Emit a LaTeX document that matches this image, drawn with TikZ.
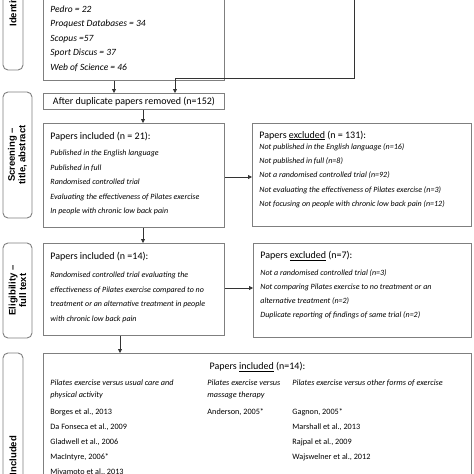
\documentclass[tikz,border=0pt]{standalone}
\usepackage{fontspec}
\setmainfont{Carlito}
\newfontfamily\sidefont{Liberation Sans}
\usetikzlibrary{arrows.meta,calc}
\definecolor{boxgray}{HTML}{7F7F7F}
\definecolor{linegray}{HTML}{333333}
\newcommand\ttlfont{\fontsize{10}{12}\selectfont}
\begin{document}
\begin{tikzpicture}[x=1pt,y=-1pt,
  mbox/.style={draw=boxgray,line width=0.9pt,fill=white,inner xsep=7pt,inner ysep=0pt,anchor=north west},
  sidebox/.style={draw=boxgray,line width=0.9pt,fill=white,rounded corners=5pt,inner sep=0pt,rotate=90,font=\sidefont\bfseries\fontsize{9.5}{10.5}\selectfont,align=center},
  conn/.style={draw=linegray,line width=0.8pt,-{Triangle[length=4pt,width=4pt]}}]
\useasboundingbox (0,0) rectangle (474,474);
\clip (0,0) rectangle (474,474);

% side labels
\node[sidebox, minimum width=146pt, minimum height=20pt] (ident) at (13,-3) {Identification};
\node[sidebox, minimum width=126pt, minimum height=29pt] (screen) at (17.5,155) {Screening –\\title, abstract};
\node[sidebox, minimum width=95pt, minimum height=29pt] (elig) at (17.5,290.5) {Eligibility –\\full text};
\node[sidebox, minimum width=205pt, minimum height=20pt] (inclside) at (13,455.5) {Included};

% boxes
\node[mbox] (search) at (43,-40) {\parbox[c][110pt][b]{167pt}{\raggedright\fontsize{9.5}{14.5}\selectfont\itshape
Pedro = 22\par
Proquest Databases = 34\par
Scopus =57\par
Sport Discus = 37\par
Web of Science = 46\rule[-10pt]{0pt}{10pt}}};

\node[mbox, minimum width=181pt, minimum height=16pt, inner xsep=0pt, font=\ttlfont] (dedup) at (43,93) {After duplicate papers removed (n=152)};

\node[mbox] (scrinc) at (43,123) {\parbox[c][104pt][t]{167pt}{\raggedright
\rule{0pt}{16.3pt}{\ttlfont Papers included (n = 21):}\par
\vspace{1.3pt}
\fontsize{8}{14.5}\selectfont\itshape
Published in the English language\par
Published in full\par
Randomised controlled trial\par
Evaluating the effectiveness of Pilates exercise\par
In people with chronic low back pain\par}};

\node[mbox] (screxc) at (252,123) {\parbox[c][103pt][t]{205pt}{\raggedright
\rule{0pt}{14.6pt}{\ttlfont Papers \underline{excluded} (n = 131):}\par
\vspace{-2.7pt}
\fontsize{8}{14.2}\selectfont\itshape
Not published in the English language (n=16)\par
Not published in full (n=8)\par
Not a randomised controlled trial (n=92)\par
Not evaluating the effectiveness of Pilates exercise (n=3)\par
Not focusing on people with chronic low back pain (n=12)\par}};

\node[mbox] (eliinc) at (43,243) {\parbox[c][92pt][t]{167pt}{\raggedright
\rule{0pt}{16.3pt}{\ttlfont Papers included (n =14):}\par
\vspace{2.5pt}
\fontsize{8}{14.9}\selectfont\itshape
Randomised controlled trial evaluating the\\
effectiveness of Pilates exercise compared to no\\
treatment or an alternative treatment in people\\
with chronic low back pain\par}};

\node[mbox] (eliexc) at (253,243) {\parbox[c][94pt][t]{204pt}{\raggedright
\rule{0pt}{15.3pt}{\ttlfont Papers \underline{excluded} (n=7):}\par
\vspace{2.7pt}
\fontsize{8}{14.1}\selectfont\itshape
Not a randomised controlled trial (n=3)\\
Not comparing Pilates exercise to no treatment or an\\
alternative treatment (n=2)\\
Duplicate reporting of findings of same trial (n=2)\par}};

\node[mbox] (incl) at (43,353) {\parbox[c][170pt][t]{414pt}{\centering
\rule{0pt}{16.3pt}{\ttlfont Papers \underline{included} (n=14):}\par
\vspace{4pt}
\raggedright\fontsize{8.2}{12}\selectfont
\begin{tabular}[t]{@{}p{157pt}@{}p{85pt}@{}l@{}}
\itshape Pilates exercise versus usual care and & \itshape Pilates exercise versus & \itshape Pilates exercise versus other forms of exercise\\
\itshape physical activity & \itshape massage therapy & \\[5pt]
Borges et al., 2013 & Anderson, 2005* & Gagnon, 2005*\\[3pt]
Da Fonseca et al., 2009 & & Marshall et al., 2013\\[3pt]
Gladwell et al., 2006 & & Rajpal et al., 2009\\[3pt]
MacIntyre, 2006* & & Wajswelner et al., 2012\\[3pt]
Miyamoto et al., 2013 & & \\
\end{tabular}\par}};

% connectors
\coordinate (src2) at (354,-5);
\draw[conn] ([xshift=71pt]search.south west) -- ([xshift=71pt]dedup.north west);
\draw[conn] (src2) |- ($(dedup.north west)+(132,-15)$) -- ([xshift=132pt]dedup.north west);
\draw[conn] ([xshift=100pt]dedup.south west) -- ([xshift=100pt]scrinc.north west);
\draw[conn] ($(scrinc.north east)+(0,54)$) coordinate (t1) -- (t1 -| screxc.west);
\draw[conn] ([xshift=100pt]scrinc.south west) -- ([xshift=100pt]eliinc.north west);
\draw[conn] ($(eliinc.north east)+(0,45)$) coordinate (t2) -- (t2 -| eliexc.west);
\draw[conn] ([xshift=77pt]eliinc.south west) -- ([xshift=77pt]incl.north west);
\end{tikzpicture}
\end{document}
